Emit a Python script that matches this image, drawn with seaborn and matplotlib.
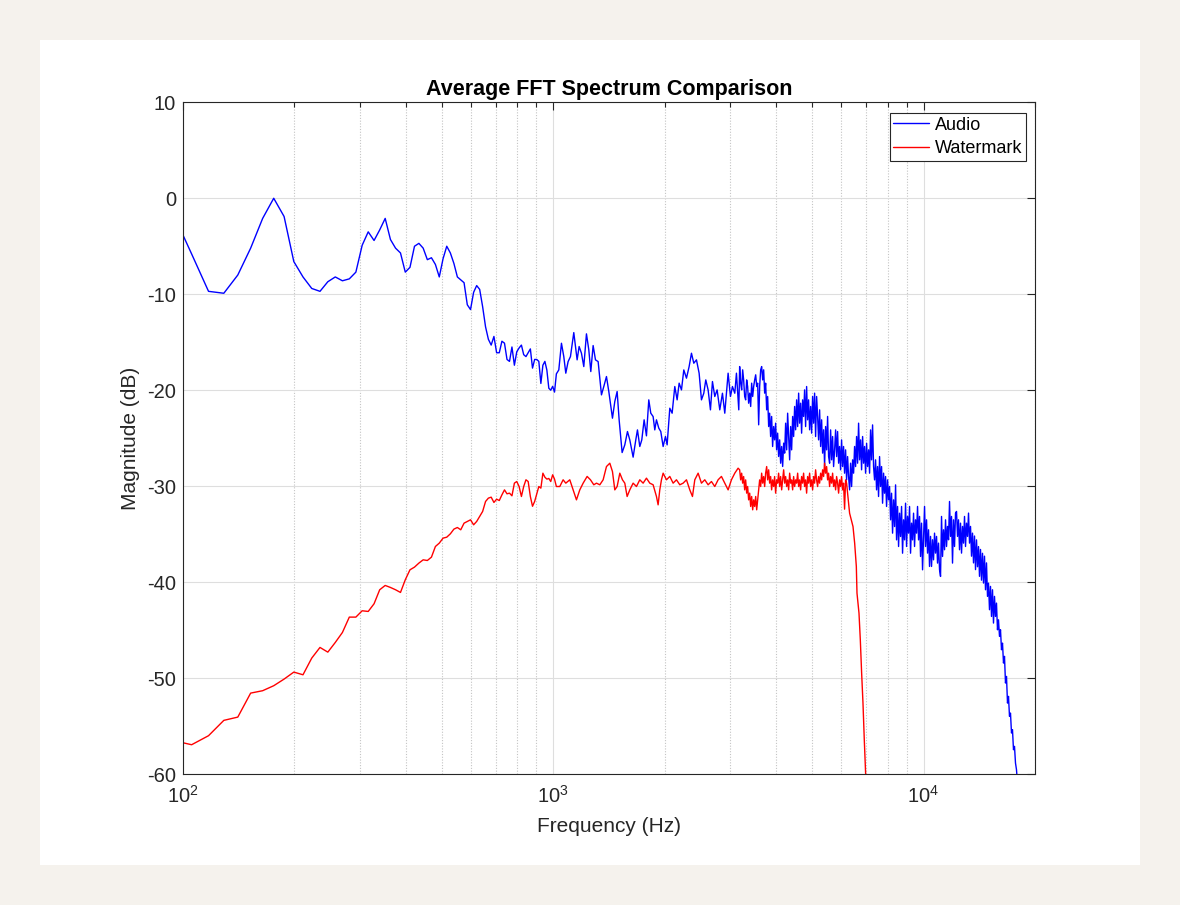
import matplotlib
matplotlib.use("Agg")
import matplotlib.pyplot as plt
import numpy as np
import pandas as pd
import seaborn as sns
from matplotlib.patches import Rectangle
from matplotlib.ticker import FixedLocator, NullFormatter

# ---------------- data ----------------
# Audio, low/mid band (Hz, dB)
audio_lf_freq = [
    93.8, 105.5, 117.2, 128.9, 140.6, 152.3, 164.1, 175.8, 187.5, 199.2,
    210.9, 222.7, 234.4, 246.1, 257.8, 269.5, 281.3, 293.0, 304.7, 316.4,
    328.1, 339.8, 351.6, 363.3, 375.0, 386.7, 398.4, 410.2, 421.9, 433.6,
    445.3, 457.0, 468.8, 480.5, 492.2, 503.9, 515.6, 527.3, 539.1, 550.8,
    562.5, 574.2, 585.9, 597.7, 609.4, 621.1, 632.8, 644.5, 656.3, 668.0,
    679.7, 691.4, 703.1, 714.8, 726.6, 738.3, 750.0, 761.7, 773.4, 785.2,
    796.9, 808.6, 820.3, 832.0, 843.8, 855.5, 867.2, 878.9, 890.6, 902.3,
    914.1, 925.8, 937.5, 949.2, 960.9, 972.7, 984.4, 996.1, 1007.8, 1019.5,
    1035.0, 1052.2, 1067.6, 1081.0, 1096.7, 1112.8, 1136.1, 1159.9, 1174.4, 1191.6,
    1209.0, 1229.2, 1247.3, 1262.9, 1281.3, 1300.1, 1321.8, 1349.5, 1369.2, 1392.1,
    1412.5, 1445.0, 1466.2, 1487.6, 1506.2, 1534.5, 1560.2, 1586.3, 1609.4, 1643.1,
    1670.6, 1688.0, 1712.7, 1734.1, 1759.5, 1785.1, 1811.2, 1833.9, 1860.7, 1880.1,
    1899.7, 1927.4, 1951.6, 1980.2, 2009.1, 2030.0, 2064.0, 2094.2, 2129.2, 2160.3,
    2187.4, 2219.4, 2251.8, 2289.5, 2327.6, 2361.7, 2396.2, 2436.3, 2476.9, 2513.1,
    2549.8, 2581.7, 2619.4, 2657.7, 2691.0, 2730.3, 2770.2, 2816.5, 2863.6, 2905.4,
    2935.7, 2966.3, 3009.6, 3047.2, 3091.8, 3124.0, 3169.6,
]
audio_lf_db = [
    -1.5, -5.8, -9.7, -9.9, -8.0, -5.2, -2.1, 0.0, -1.9, -6.6,
    -8.2, -9.4, -9.7, -8.7, -8.2, -8.6, -8.4, -7.7, -4.9, -3.5,
    -4.4, -3.3, -2.1, -4.3, -5.2, -5.7, -7.7, -7.2, -5.0, -4.7,
    -5.2, -6.4, -6.2, -6.9, -8.2, -6.3, -5.0, -5.7, -6.8, -8.2,
    -8.5, -8.8, -11.1, -11.6, -9.8, -9.1, -9.5, -11.3, -13.4, -14.7,
    -15.3, -14.4, -16.1, -16.1, -14.9, -15.1, -16.8, -17.0, -15.5, -17.4,
    -16.0, -15.6, -15.3, -16.3, -16.5, -16.1, -15.7, -17.7, -16.8, -16.8,
    -17.0, -19.3, -17.4, -17.0, -17.9, -19.8, -20.0, -19.6, -20.2, -18.3,
    -17.89, -15.11, -16.50, -18.23, -17.02, -16.50, -14.00, -16.84, -15.45, -16.15,
    -17.54, -14.13, -15.80, -18.06, -15.35, -16.84, -17.02, -20.49, -19.62, -18.58,
    -20.14, -22.92, -21.18, -20.14, -23.09, -26.50, -25.70, -24.31, -25.18, -26.98,
    -25.18, -24.14, -25.87, -25.18, -23.09, -24.76, -21.01, -22.40, -22.75, -24.14,
    -23.09, -23.96, -24.31, -25.87, -24.83, -25.70, -21.88, -22.40, -19.62, -21.01,
    -19.27, -19.97, -17.89, -18.75, -17.54, -16.15, -17.19, -16.84, -18.23, -21.01,
    -20.32, -18.93, -19.97, -22.05, -19.10, -20.66, -19.97, -22.05, -20.32, -22.40,
    -20.32, -18.23, -20.66, -19.62, -20.32, -18.23, -22.05,
]

# High band sample frequencies (Hz), shared by both series
hf_freq = [
    3187, 3207, 3227, 3247, 3267, 3288, 3308, 3329, 3349, 3370,
    3392, 3413, 3434, 3456, 3477, 3499, 3521, 3543, 3565, 3587,
    3609, 3632, 3654, 3677, 3700, 3723, 3746, 3770, 3793, 3817,
    3840, 3864, 3888, 3912, 3937, 3961, 3986, 4011, 4036, 4061,
    4087, 4112, 4138, 4164, 4190, 4216, 4242, 4269, 4295, 4322,
    4349, 4376, 4403, 4431, 4458, 4486, 4514, 4542, 4571, 4599,
    4627, 4656, 4685, 4714, 4743, 4773, 4803, 4833, 4863, 4893,
    4924, 4955, 4986, 5017, 5048, 5079, 5111, 5143, 5175, 5207,
    5240, 5273, 5306, 5339, 5372, 5405, 5439, 5473, 5507, 5541,
    5576, 5611, 5646, 5681, 5716, 5752, 5788, 5824, 5860, 5897,
    5933, 5970, 6007, 6045, 6082, 6120, 6159, 6197, 6236, 6274,
    6314, 6353, 6393, 6433, 6473, 6513, 6554, 6595, 6636, 6677,
    6719, 6761, 6803, 6846, 6888, 6931, 6974, 7018, 7062, 7106,
    7149, 7194, 7238, 7284, 7329, 7375, 7421, 7467, 7514, 7560,
    7608, 7655, 7703, 7751, 7800, 7848, 7897, 7946, 7996, 8046,
    8096, 8146, 8197, 8248, 8300, 8352, 8404, 8456, 8509, 8562,
    8615, 8669, 8723, 8777, 8832, 8887, 8942, 8998, 9054, 9111,
    9167, 9224, 9282, 9340, 9398, 9456, 9515, 9575, 9634, 9695,
    9755, 9816, 9877, 9939, 10001, 10063, 10126, 10189, 10252, 10316,
    10380, 10445, 10510, 10575, 10641, 10708, 10774, 10842, 10909, 10977,
    11046, 11115, 11184, 11254, 11324, 11395, 11466, 11537, 11609, 11682,
    11754, 11827, 11901, 11975, 12050, 12125, 12201, 12277, 12353, 12430,
    12508, 12586, 12665, 12743, 12823, 12903, 12983, 13064, 13146, 13228,
    13310, 13393, 13477, 13561, 13645, 13730, 13816, 13902, 13989, 14076,
    14163, 14251, 14340, 14430, 14520, 14610, 14701, 14793, 14885, 14978,
    15071, 15165, 15260, 15355, 15450, 15547, 15644, 15741, 15839, 15938,
    16038, 16138, 16239, 16340, 16442, 16544, 16647, 16751, 16856, 16961,
    17066, 17172, 17280, 17387, 17496, 17605, 17715, 17825, 17936,
]
audio_hf_db = [
    -17.54, -19.27, -19.97, -17.88, -18.93, -20.66, -21.01, -18.93, -19.62, -21.36,
    -20.31, -21.70, -19.27, -20.66, -19.62, -18.93, -18.40, -19.62, -19.27, -23.61,
    -19.62, -17.88, -17.54, -18.93, -17.88, -20.31, -19.27, -22.05, -20.66, -23.79,
    -22.40, -24.83, -22.74, -25.87, -23.79, -25.18, -23.44, -26.22, -24.48, -26.91,
    -25.18, -27.61, -25.87, -27.95, -25.52, -26.56, -23.44, -26.22, -22.40, -24.83,
    -27.26, -23.79, -26.22, -22.74, -24.83, -21.70, -24.13, -21.01, -23.79, -20.31,
    -23.44, -21.36, -24.48, -21.01, -22.74, -19.97, -23.79, -19.62, -23.09, -21.01,
    -24.13, -21.70, -24.48, -20.66, -23.44, -20.31, -24.83, -20.66, -22.74, -25.18,
    -22.05, -25.87, -23.09, -26.56, -24.13, -27.95, -23.79, -26.22, -22.74, -26.91,
    -27.61, -24.14, -27.26, -24.83, -27.96, -26.22, -24.14, -26.92, -24.31, -27.61,
    -25.87, -28.30, -25.18, -27.96, -25.87, -28.65, -26.22, -29.35, -26.92, -29.00,
    -30.39, -27.61, -30.04, -27.26, -28.65, -25.87, -27.96, -24.83, -27.61, -23.44,
    -27.26, -25.18, -28.30, -24.83, -27.61, -25.87, -28.65, -25.53, -27.96, -26.22,
    -28.65, -24.14, -27.26, -23.62, -27.96, -29.35, -27.26, -30.39, -27.96, -31.08,
    -26.92, -30.04, -27.96, -31.78, -28.65, -30.74, -29.00, -32.12, -29.35, -31.43,
    -30.04, -33.51, -30.74, -34.90, -31.43, -34.21, -29.87, -35.60, -32.12, -36.29,
    -32.82, -35.25, -32.12, -36.99, -33.51, -35.60, -31.78, -36.29, -33.16, -34.90,
    -32.12, -36.99, -33.86, -35.60, -32.82, -36.29, -33.51, -34.90, -32.12, -35.60,
    -33.16, -37.33, -33.86, -38.72, -35.24, -32.12, -36.29, -33.51, -36.98, -34.55,
    -38.37, -35.24, -38.37, -35.59, -37.68, -34.90, -36.98, -35.24, -38.02, -35.94,
    -38.72, -39.41, -33.16, -37.33, -34.55, -36.63, -33.51, -36.29, -34.20, -35.59,
    -31.60, -35.24, -33.16, -38.02, -33.51, -36.29, -32.81, -32.64, -35.24, -33.51,
    -36.63, -33.86, -36.98, -34.20, -35.94, -33.16, -36.29, -33.86, -35.24, -32.81,
    -35.94, -34.20, -37.30, -34.90, -38.00, -35.20, -38.70, -35.60, -38.40, -36.30,
    -39.40, -36.60, -39.80, -37.00, -40.10, -37.30, -40.80, -38.00, -41.49, -40.11,
    -42.88, -40.45, -43.58, -40.80, -44.27, -41.49, -43.58, -42.19, -44.97, -43.93,
    -45.66, -44.97, -47.05, -46.36, -48.44, -47.74, -50.52, -49.83, -52.61, -51.91,
    -53.99, -53.65, -55.73, -55.38, -57.47, -57.12, -58.86, -59.55, -60.94,
]

# Watermark, low/mid band (Hz, dB)
watermark_lf_freq = [
    93.8, 105.5, 117.2, 128.9, 140.6, 152.3, 164.1, 175.8, 187.5, 199.2,
    210.9, 222.7, 234.4, 246.1, 257.8, 269.5, 281.3, 293.0, 304.7, 316.4,
    328.1, 339.8, 351.6, 363.3, 375.0, 386.7, 398.4, 410.2, 421.9, 433.6,
    445.3, 457.0, 468.8, 480.5, 492.2, 503.9, 515.6, 527.3, 539.1, 550.8,
    562.5, 574.2, 585.9, 597.7, 609.4, 621.1, 632.8, 644.5, 656.3, 668.0,
    679.7, 691.4, 703.1, 714.8, 726.6, 738.3, 750.0, 761.7, 773.4, 785.2,
    796.9, 808.6, 820.3, 832.0, 843.8, 855.5, 867.2, 878.9, 890.6, 902.3,
    914.1, 925.8, 937.5, 949.2, 960.9, 972.7, 984.4, 996.1, 1007.8, 1019.5,
    1041.4, 1063.2, 1081.0, 1108.2, 1131.4, 1155.1, 1179.3, 1204.1, 1234.4, 1260.3,
    1286.7, 1308.2, 1335.6, 1363.6, 1392.1, 1421.3, 1445.0, 1466.2, 1487.6, 1512.5,
    1537.7, 1560.2, 1583.0, 1609.4, 1643.1, 1677.5, 1712.7, 1748.6, 1785.1, 1822.5,
    1860.7, 1899.7, 1919.4, 1939.4, 1959.7, 1980.2, 2021.6, 2064.0, 2107.2, 2151.3,
    2196.4, 2242.4, 2289.5, 2337.3, 2376.4, 2411.1, 2461.6, 2513.1, 2565.6, 2619.4,
    2674.3, 2730.3, 2787.4, 2845.7, 2905.4, 2966.3, 3028.3, 3091.8, 3156.5,
]
watermark_lf_db = [
    -56.5, -56.95, -56.01, -54.41, -54.07, -51.57, -51.32, -50.80, -50.11, -49.38,
    -49.66, -47.92, -46.81, -47.30, -46.29, -45.25, -43.65, -43.65, -42.99, -43.06,
    -42.26, -40.80, -40.35, -40.56, -40.80, -41.08, -39.76, -38.72, -38.44, -38.02,
    -37.68, -37.75, -37.40, -36.29, -35.94, -35.42, -35.32, -34.97, -34.48, -34.31,
    -34.55, -33.86, -33.68, -33.51, -34.03, -33.68, -33.16, -32.64, -31.60, -31.25,
    -31.15, -31.70, -31.36, -31.50, -30.91, -30.39, -30.80, -30.73, -31.01, -29.69,
    -29.52, -30.04, -31.08, -30.04, -29.34, -29.52, -31.08, -32.10, -31.60, -30.80,
    -30.04, -30.21, -28.65, -29.07, -29.27, -29.20, -29.52, -28.82, -29.27, -30.04,
    -30.04, -29.34, -29.69, -29.34, -30.39, -31.43, -30.39, -29.69, -28.99, -29.34,
    -29.86, -29.69, -29.86, -29.34, -27.96, -27.61, -28.48, -30.39, -30.04, -28.65,
    -29.34, -29.69, -31.08, -30.39, -29.69, -30.04, -29.34, -29.69, -29.17, -29.69,
    -29.86, -31.08, -31.95, -30.39, -29.34, -28.65, -29.34, -28.99, -29.69, -29.34,
    -29.86, -29.69, -29.34, -30.39, -31.08, -29.34, -28.65, -29.69, -29.34, -29.86,
    -29.52, -30.04, -29.34, -28.99, -29.69, -30.39, -29.34, -28.65, -28.13,
]
# Watermark on the first 111 high-band frequencies (3187 .. 6314 Hz)
watermark_hf_db = [
    -28.30, -29.35, -28.65, -29.69, -29.00, -30.39, -29.35, -30.73, -30.04, -31.43,
    -30.73, -32.12, -31.08, -32.47, -31.43, -32.12, -31.08, -32.47, -31.43, -30.39,
    -29.35, -30.04, -28.65, -29.69, -29.00, -30.04, -28.65, -27.96, -29.35, -28.30,
    -29.69, -29.00, -30.39, -29.35, -30.04, -29.00, -30.73, -29.35, -29.69, -28.65,
    -30.04, -29.00, -30.39, -29.35, -28.30, -29.69, -29.00, -30.04, -29.35, -30.39,
    -28.65, -29.69, -29.35, -30.39, -29.00, -30.04, -29.35, -29.69, -28.65, -30.04,
    -29.35, -30.39, -29.00, -29.69, -28.65, -30.04, -29.35, -30.73, -29.00, -29.69,
    -28.65, -30.04, -29.35, -30.39, -29.00, -29.69, -28.30, -29.35, -30.04, -29.00,
    -29.69, -28.65, -29.35, -28.30, -29.00, -27.61, -28.65, -27.96, -29.35, -28.65,
    -30.04, -29.00, -29.69, -28.65, -30.04, -29.35, -30.39, -29.00, -29.69, -30.73,
    -29.35, -30.04, -29.00, -30.39, -29.69, -32.40, -29.35, -29.69, -30.73, -31.78,
    -32.82,
]
# Watermark roll-off
watermark_tail_freq = [6449, 6516, 6584, 6611, 6694, 6749, 6805, 6862, 6918, 6976, 7035]
watermark_tail_db = [-34.21, -35.94, -38.37, -41.15, -43.24, -46.01, -49.49, -52.61, -56.43, -59.97, -63.0]

series_names = ["Audio", "Watermark"]
series_colors = ["#0000ff", "#ff0000"]
y_ticks = [-60, -50, -40, -30, -20, -10, 0, 10]
x_major_ticks = [100, 1000, 10000]
x_tick_labels = [r"$\mathregular{10^{2}}$", r"$\mathregular{10^{3}}$", r"$\mathregular{10^{4}}$"]
x_minor_ticks = [200, 300, 400, 500, 600, 700, 800, 900,
                 2000, 3000, 4000, 5000, 6000, 7000, 8000, 9000, 20000]
title_text = "Average FFT Spectrum Comparison"
x_label = "Frequency (Hz)"
y_label = "Magnitude (dB)"

# ---------------- table for seaborn ----------------
n_wm_hf = len(watermark_hf_db)
audio_freq = audio_lf_freq + hf_freq
audio_db = audio_lf_db + audio_hf_db
watermark_freq = watermark_lf_freq + hf_freq[:n_wm_hf] + watermark_tail_freq
watermark_db = watermark_lf_db + watermark_hf_db + watermark_tail_db

df = pd.concat([
    pd.DataFrame({"Frequency": audio_freq, "Magnitude": audio_db, "Series": series_names[0]}),
    pd.DataFrame({"Frequency": watermark_freq, "Magnitude": watermark_db, "Series": series_names[1]}),
], ignore_index=True)

# ---------------- styling ----------------
sns.set_style("white")
plt.rcParams["font.family"] = ["Liberation Sans", "DejaVu Sans"]
plt.rcParams["mathtext.fontset"] = "custom"
plt.rcParams["mathtext.rm"] = "Liberation Sans"
plt.rcParams["mathtext.it"] = "Liberation Sans:italic"
plt.rcParams["mathtext.bf"] = "Liberation Sans:bold"

W, H = 1180, 905
fig = plt.figure(figsize=(W / 100, H / 100), dpi=100, facecolor="#f5f2ed")
fig.patches.append(Rectangle((40 / W, 40 / H), 1100 / W, 825 / H,
                             transform=fig.transFigure, facecolor="white",
                             edgecolor="none", zorder=-10))

ax = fig.add_axes([183 / W, (H - 774) / H, (1035 - 183) / W, (774 - 102.3) / H])
ax.set_zorder(5)
ax.set_facecolor("white")
ax.set_xscale("log")

sns.lineplot(data=df, x="Frequency", y="Magnitude", hue="Series",
             palette=dict(zip(series_names, series_colors)),
             estimator=None, sort=False, linewidth=1.0, ax=ax)

ax.set_xlim(100, 20000)
ax.set_ylim(-60, 10)

ax.xaxis.set_major_locator(FixedLocator(x_major_ticks))
ax.xaxis.set_minor_locator(FixedLocator(x_minor_ticks))
ax.set_xticklabels(x_tick_labels)
ax.xaxis.set_minor_formatter(NullFormatter())
ax.set_yticks(y_ticks)
ax.set_yticklabels([str(v) for v in y_ticks])

ax.set_axisbelow(True)
ax.grid(True, which="major", axis="both", color="#dedede", linewidth=0.8, linestyle="-")
ax.xaxis.grid(True, which="minor", color="#c4c4c4", linewidth=0.8, linestyle=(0, (1, 1.5)))

edge = "#262626"
for s in ax.spines.values():
    s.set_visible(True)
    s.set_color(edge)
    s.set_linewidth(0.8)

ax.tick_params(which="both", direction="in", top=True, right=True,
               color=edge, labelcolor=edge, width=0.8)
ax.tick_params(which="major", length=5.5, labelsize=14.5)
ax.tick_params(axis="x", which="major", pad=8)
ax.tick_params(axis="y", which="major", pad=5)
ax.tick_params(which="minor", length=3.5)

ax.set_xlabel(x_label, fontsize=15, color=edge, labelpad=7)
ax.set_ylabel(y_label, fontsize=15, color=edge, labelpad=5)
ax.set_title(title_text, fontsize=15.5, fontweight="bold", color="black", pad=5)

leg = ax.legend(loc="upper right", bbox_to_anchor=(0.9894, 0.984), borderaxespad=0,
                frameon=True, fancybox=False, shadow=False, fontsize=13,
                handlelength=2.0, handletextpad=0.3, borderpad=0.2, labelspacing=0.35)
leg.get_frame().set_edgecolor(edge)
leg.get_frame().set_linewidth(0.8)
leg.get_frame().set_facecolor("white")
leg.get_frame().set_alpha(1.0)
for t in leg.get_texts():
    t.set_color("black")

fig.savefig("out.png", dpi=100, facecolor=fig.get_facecolor())
